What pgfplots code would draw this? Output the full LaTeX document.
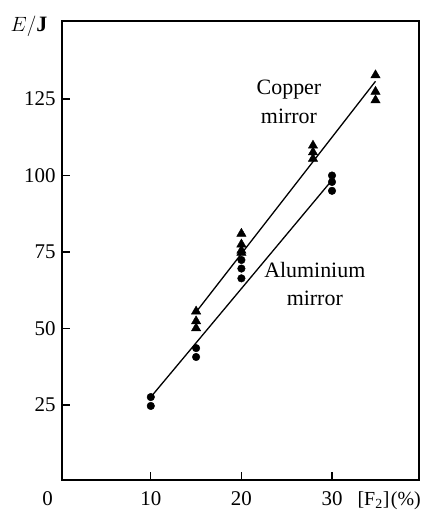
\documentclass[border=0pt]{standalone}
\usepackage{fontspec}
\setmainfont{Liberation Serif}
\usepackage{pgfplots}
\pgfplotsset{compat=1.18}

\begin{document}
\begin{tikzpicture}[every node/.style={font=\fontsize{22}{24}\selectfont}]
\begin{axis}[
  at={(0,0)}, anchor=south west,
  scale only axis,
  width=357bp, height=459bp,
  xmin=0.2, xmax=39.6,
  ymin=0.5, ymax=150.5,
  xtick={10,20,30}, ytick={25,50,75,100,125},
  tick align=inside,
  major tick length=8bp,
  tick style={line width=1.1bp, black},
  axis line style={line width=1.1bp},
  xtick pos=bottom, ytick pos=left,
  /pgf/number format/assume math mode=true,
  ticklabel style={font=\fontsize{21}{23}\selectfont},
  xticklabel style={anchor=base, yshift=-25bp},
  yticklabel style={xshift=-3bp},
  clip=false,
]
% aluminium mirror: measurements and fitted line
\addplot[only marks, mark=*, mark size=3.8bp, black] coordinates {
  (10,27.6) (10,24.7)
  (15,43.6) (15,40.7)
  (20,72.4) (20,69.6) (20,66.4)
  (30,100.0) (30,97.9) (30,95.0)
};
\addplot[black, line width=1.3bp] coordinates {(10,27.6) (30,98.5)};
% copper mirror: measurements and fitted line
\addplot[only marks, mark=triangle*, mark size=5.4bp, black] coordinates {
  (15,55.6) (15,52.4) (15,50.1)
  (20,81.0) (20,77.5) (20,75.5) (20,74.8)
  (27.9,109.8) (27.9,107.6) (27.9,105.5)
  (34.8,132.8) (34.8,127.4) (34.8,124.6)
};
\addplot[black, line width=1.3bp] coordinates {(15,55.4) (34.8,130.8)};
% curve labels
\node[anchor=base] at (axis cs:25.25,126.6) {Copper};
\node[anchor=base] at (axis cs:25.25,117.1) {mirror};
\node[anchor=base] at (axis cs:28.1,66.8) {Aluminium};
\node[anchor=base] at (axis cs:28.1,57.6) {mirror};
% axis titles and the origin label
\node[anchor=base] at (rel axis cs:0,1) [xshift=-33bp, yshift=-11bp] {$E/$\textbf{J}};
\node[anchor=base, font=\fontsize{21}{23}\selectfont] at (axis cs:-1.4,0.5) [yshift=-25bp] {0};
\node[anchor=base west, inner sep=0pt, font=\fontsize{20}{22}\selectfont] at (axis cs:32.8,0.5) [yshift=-25bp] {[F\textsubscript{2}]\kern1.5bp(\%)};
\end{axis}
\pgfresetboundingbox
\path (-62bp,-30bp) rectangle (362bp,480bp);
\end{tikzpicture}
\end{document}
